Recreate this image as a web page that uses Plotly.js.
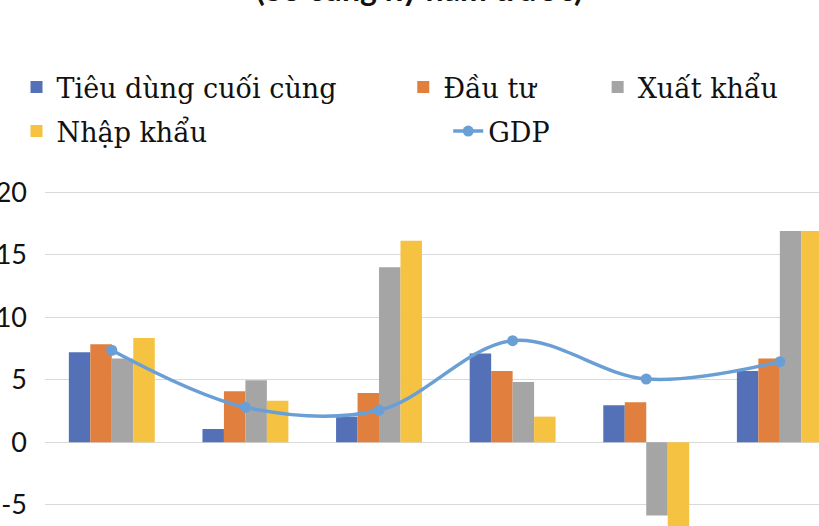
<!DOCTYPE html>
<html>
<head>
<meta charset="utf-8">
<script src="https://cdn.plot.ly/plotly-3.0.1.min.js"></script>
<style>html,body{margin:0;padding:0;overflow:hidden;background:#fff}</style>
</head>
<body>
<div id="chart" style="width:819px;height:526px"></div>
<script>
// Data (x-axis labels are cut off in the reference)
const categories = ["Kỳ 1", "Kỳ 2", "Kỳ 3", "Kỳ 4", "Kỳ 5", "Kỳ 6"];
const tieuDung = [7.2, 1.06, 2.05, 7.1, 2.96, 5.7];
const dauTu    = [7.84, 4.08, 3.94, 5.7, 3.2, 6.7];
const xuatKhau = [6.7, 4.96, 14.0, 4.82, -5.85, 16.9];
const nhapKhau = [8.34, 3.33, 16.13, 2.05, -7.5, 16.9];
const gdp      = [7.36, 2.8, 2.56, 8.13, 5.06, 6.45];
const yTicks   = [-5, 0, 5, 10, 15, 20];
const titleText = "(So cùng kỳ năm trước)";

const W = 819, H = 526;
const M = {l: 44.5, r: 0, t: 180, b: 0};
const PW = W - M.l - M.r, PH = H - M.t - M.b;
const barColors = ["#5470b6", "#e07f3e", "#a5a5a5", "#f5c242"];
const lineColor = "#6a9fd6";

function bar(name, y, color, legend) {
  return {type: "bar", name: name, x: categories, y: y,
    marker: {color: color, line: {width: 0}}, legend: legend, hoverinfo: "none"};
}

const traces = [
  bar("Tiêu dùng cuối cùng", tieuDung, barColors[0], "legend"),
  bar("Đầu tư", dauTu, barColors[1], "legend2"),
  bar("Xuất khẩu", xuatKhau, barColors[2], "legend3"),
  bar("Nhập khẩu", nhapKhau, barColors[3], "legend5"),
  {type: "scatter", mode: "lines+markers", name: "GDP", x: categories, y: gdp,
   line: {color: lineColor, width: 3.5, shape: "spline", smoothing: 1},
   marker: {color: lineColor, size: 11}, legend: "legend4", hoverinfo: "none"}
];

const legendFont = {family: "DejaVu Serif", size: 27, color: "#111"};
function leg(xpx, ypx) {
  return {x: (xpx - M.l) / PW, y: (H - M.b - ypx) / PH,
    xanchor: "left", yanchor: "top", orientation: "v", font: legendFont,
    bgcolor: "rgba(0,0,0,0)", borderwidth: 0, traceorder: "normal", tracegroupgap: 0};
}

const layout = {
  width: W, height: H,
  margin: {l: M.l, r: M.r, t: M.t, b: M.b, pad: 0, autoexpand: false},
  paper_bgcolor: "#fff", plot_bgcolor: "#fff",
  barmode: "group", bargap: 0.357, bargroupgap: 0,
  annotations: [{text: titleText, xref: "paper", yref: "paper",
    x: (419 - M.l) / PW, xanchor: "center", y: (H - M.b) / PH, yanchor: "middle",
    yshift: 11, showarrow: false,
    font: {family: "Lato", size: 32, weight: 700, color: "#111"}}],
  xaxis: {type: "category", range: [-0.5, 5.293], showticklabels: false, ticks: "",
    showgrid: false, zeroline: false, showline: false, fixedrange: true},
  yaxis: {range: [-6.7, 20.98], tickvals: yTicks, ticktext: yTicks.map(String),
    showgrid: true, gridcolor: "#d9d9d9", gridwidth: 1.3, zeroline: false, showline: false,
    ticks: "", ticklabelstandoff: 17,
    tickfont: {family: "Lato", size: 27, color: "#111"}},
  showlegend: true,
  legend: leg(16, 63),
  legend2: leg(403, 63),
  legend3: leg(597.5, 63),
  legend4: leg(448, 107),
  legend5: leg(16, 107)
};

Plotly.newPlot("chart", traces, layout, {staticPlot: true, displayModeBar: false});
</script>
</body>
</html>
